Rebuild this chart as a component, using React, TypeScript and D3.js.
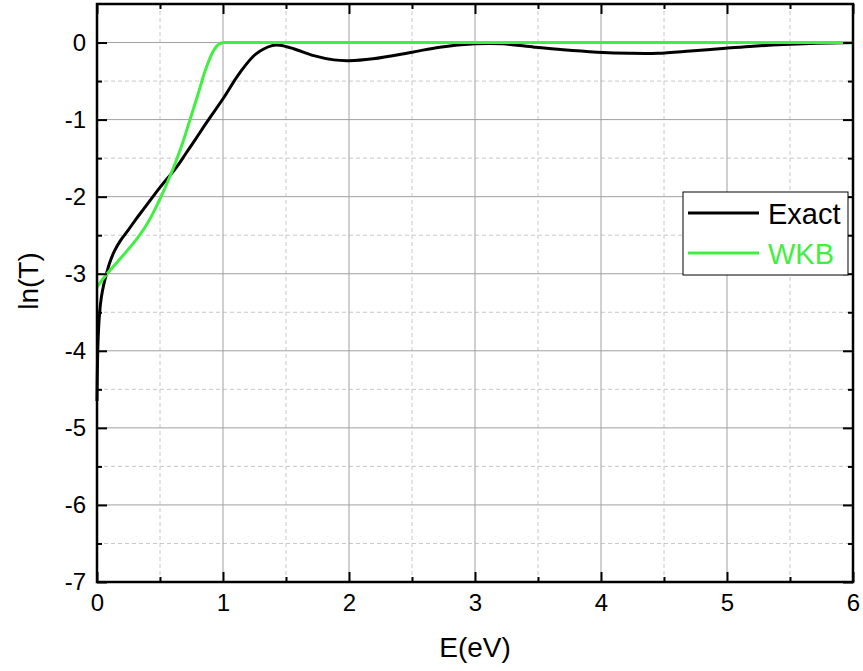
import React, { useRef, useEffect } from 'react';
import * as d3 from 'd3';

// Exact transmission
const exactE = [0, 0.004, 0.01, 0.02, 0.035, 0.055, 0.075, 0.1, 0.14, 0.19, 0.245, 0.31, 0.38, 0.5, 0.63, 0.705, 0.78, 0.865, 1.0, 1.13, 1.26, 1.39, 1.45, 1.56, 1.72, 1.88, 2.0, 2.19, 2.5, 2.72, 3.0, 3.22, 3.47, 3.7, 3.97, 4.23, 4.45, 4.71, 4.94, 5.18, 5.45, 5.71, 6.0];
const exactLnT = [-4.65, -4.15, -3.8, -3.52, -3.3, -3.13, -3.0, -2.86, -2.7, -2.56, -2.44, -2.29, -2.14, -1.88, -1.62, -1.44, -1.26, -1.05, -0.73, -0.4, -0.15, -0.04, -0.035, -0.08, -0.17, -0.225, -0.235, -0.21, -0.125, -0.06, -0.017, -0.017, -0.06, -0.095, -0.125, -0.14, -0.14, -0.11, -0.08, -0.05, -0.026, -0.01, 0];

// WKB approximation
const wkbE = [0, 0.075, 0.16, 0.245, 0.31, 0.38, 0.44, 0.5, 0.56, 0.62, 0.68, 0.74, 0.8, 0.86, 0.92, 0.96, 1.0, 2.0, 3.0, 4.0, 5.0, 6.0];
const wkbLnT = [-3.17, -3.01, -2.85, -2.69, -2.56, -2.4, -2.23, -2.03, -1.81, -1.57, -1.3, -0.99, -0.68, -0.36, -0.12, -0.03, 0, 0, 0, 0, 0, 0];

const xTicks = [0, 1, 2, 3, 4, 5, 6];
const xMinor = [0.5, 1.5, 2.5, 3.5, 4.5, 5.5];
const yTicks = [0, -1, -2, -3, -4, -5, -6, -7];
const yMinor = [-0.5, -1.5, -2.5, -3.5, -4.5, -5.5, -6.5];

const seriesNames = ['Exact', 'WKB'];
const seriesColors = ['#000000', '#40f040'];

const W = 863, H = 671;
const margin = { left: 97, right: 10, top: 4, bottom: 89 };
const font = '"Liberation Sans", Arial, sans-serif';

const draw = (svgRef: React.RefObject<SVGSVGElement>) => {
  const svg = d3.select(svgRef.current);
  svg.selectAll('*').remove();

  const x = d3.scaleLinear().domain([0, 6]).range([margin.left, W - margin.right]);
  const y = d3.scaleLinear().domain([-7, 0.5]).range([H - margin.bottom, margin.top]);
  const [x0, x1] = x.range();
  const [y0, y1] = y.range();

  svg.append('rect').attr('width', W).attr('height', H).attr('fill', '#fff');

  // grid
  const grid = svg.append('g');
  grid.selectAll('.gxm').data(xMinor).join('line')
    .attr('x1', d => x(d)).attr('x2', d => x(d)).attr('y1', y0).attr('y2', y1)
    .attr('stroke', '#c8c8c8').attr('stroke-dasharray', '4,3');
  grid.selectAll('.gym').data(yMinor).join('line')
    .attr('y1', d => y(d)).attr('y2', d => y(d)).attr('x1', x0).attr('x2', x1)
    .attr('stroke', '#c8c8c8').attr('stroke-dasharray', '4,3');
  grid.selectAll('.gx').data(xTicks).join('line')
    .attr('x1', d => x(d)).attr('x2', d => x(d)).attr('y1', y0).attr('y2', y1)
    .attr('stroke', '#a0a0a0');
  grid.selectAll('.gy').data(yTicks).join('line')
    .attr('y1', d => y(d)).attr('y2', d => y(d)).attr('x1', x0).attr('x2', x1)
    .attr('stroke', '#a0a0a0');

  // curves
  const line = d3.line<[number, number]>()
    .x(d => x(d[0])).y(d => y(d[1]))
    .curve(d3.curveCatmullRom.alpha(0.5));

  const exactPts = exactE.map((e, i) => [e, exactLnT[i]] as [number, number]);
  const wkbPts = wkbE.map((e, i) => [e, wkbLnT[i]] as [number, number]);
  // WKB rises to zero at E = 1 eV and then stays flat
  const wkbRise = wkbPts.filter(d => d[0] <= 1);
  const wkbFlat = wkbPts.filter(d => d[0] >= 1);

  const plot = svg.append('g');
  plot.append('path')
    .datum(exactPts)
    .attr('fill', 'none').attr('stroke', seriesColors[0]).attr('stroke-width', 3)
    .attr('d', line);
  plot.append('path')
    .datum(wkbRise)
    .attr('fill', 'none').attr('stroke', seriesColors[1]).attr('stroke-width', 3)
    .attr('d', line);
  plot.append('path')
    .datum(wkbFlat)
    .attr('fill', 'none').attr('stroke', seriesColors[1]).attr('stroke-width', 3)
    .attr('d', d3.line<[number, number]>().x(d => x(d[0])).y(d => y(d[1])));

  // axes with inward ticks
  const styleAxis = (g: any) => {
    g.select('.domain').remove();
    g.selectAll('line').attr('stroke', '#000').attr('stroke-width', 2);
    g.selectAll('text').attr('font-family', font).attr('font-size', 24).attr('fill', '#000');
  };
  const fmt = (d: any) => String(d);

  svg.append('g').attr('transform', `translate(0,${y0})`)
    .call(d3.axisBottom(x).tickValues(xTicks).tickFormat(fmt).tickSize(-10).tickPadding(12))
    .call(styleAxis);
  svg.append('g').attr('transform', `translate(0,${y0})`)
    .call(d3.axisBottom(x).tickValues(xMinor).tickFormat(() => '').tickSize(-5))
    .call(styleAxis);
  svg.append('g').attr('transform', `translate(0,${y1})`)
    .call(d3.axisTop(x).tickValues(xTicks).tickFormat(() => '').tickSize(-10))
    .call(styleAxis);
  svg.append('g').attr('transform', `translate(0,${y1})`)
    .call(d3.axisTop(x).tickValues(xMinor).tickFormat(() => '').tickSize(-5))
    .call(styleAxis);

  svg.append('g').attr('transform', `translate(${x0},0)`)
    .call(d3.axisLeft(y).tickValues(yTicks).tickFormat(fmt).tickSize(-10).tickPadding(11))
    .call(styleAxis);
  svg.append('g').attr('transform', `translate(${x0},0)`)
    .call(d3.axisLeft(y).tickValues(yMinor).tickFormat(() => '').tickSize(-5))
    .call(styleAxis);
  svg.append('g').attr('transform', `translate(${x1},0)`)
    .call(d3.axisRight(y).tickValues(yTicks).tickFormat(() => '').tickSize(-10))
    .call(styleAxis);
  svg.append('g').attr('transform', `translate(${x1},0)`)
    .call(d3.axisRight(y).tickValues(yMinor).tickFormat(() => '').tickSize(-5))
    .call(styleAxis);

  // frame
  svg.append('rect')
    .attr('x', x0).attr('y', y1).attr('width', x1 - x0).attr('height', y0 - y1)
    .attr('fill', 'none').attr('stroke', '#000').attr('stroke-width', 2.5);

  // axis titles
  svg.append('text')
    .attr('x', (x0 + x1) / 2).attr('y', 657)
    .attr('text-anchor', 'middle')
    .attr('font-family', font).attr('font-size', 28)
    .text('E(eV)');
  svg.append('text')
    .attr('transform', `translate(38,281) rotate(-90)`)
    .attr('text-anchor', 'middle')
    .attr('font-family', font).attr('font-size', 28)
    .text('ln(T)');

  // legend
  const lg = svg.append('g').attr('transform', 'translate(683,192)');
  lg.append('rect').attr('width', 165).attr('height', 83)
    .attr('fill', '#fff').attr('stroke', '#000').attr('stroke-width', 1);
  seriesNames.forEach((name, i) => {
    const yy = 21 + i * 40;
    lg.append('line').attr('x1', 5).attr('x2', 76).attr('y1', yy).attr('y2', yy)
      .attr('stroke', seriesColors[i]).attr('stroke-width', 3);
    lg.append('text').attr('x', 85).attr('y', yy + 11)
      .attr('font-family', font).attr('font-size', 29)
      .attr('fill', seriesColors[i])
      .text(name);
  });
};

export default function App() {
  const svgRef = useRef<SVGSVGElement>(null);

  useEffect(() => {
    draw(svgRef);
  }, []);

  return (
    <svg ref={svgRef} width={W} height={H}
      style={{ position: 'absolute', left: 0, top: 0, display: 'block' }} />
  );
}
